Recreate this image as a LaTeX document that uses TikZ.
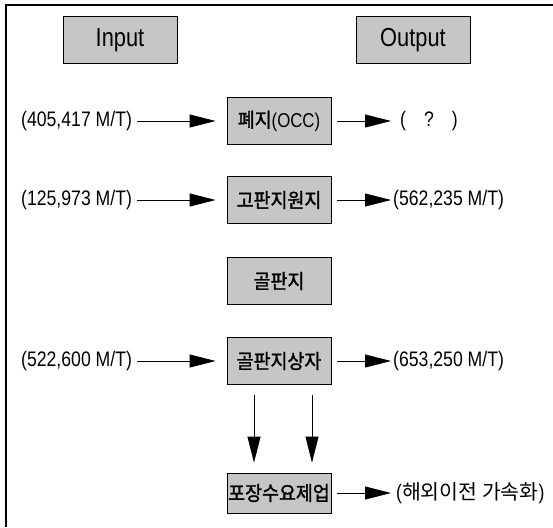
\documentclass[tikz,border=0pt]{standalone}
\usepackage{fontspec}
\setmainfont[FakeStretch=0.84]{Liberation Sans}
\newfontfamily\kr{Noto Sans CJK KR}
\newfontfamily\krb{Noto Sans CJK KR}[FakeBold=1.5,FakeStretch=0.92]
\usetikzlibrary{arrows.meta}
\definecolor{boxgray}{RGB}{198,198,198}
\tikzset{
  graybox/.style={draw=black, line width=0.8pt, fill=boxgray, minimum width=104pt, minimum height=47pt, inner sep=0pt, font=\fontsize{20}{20}\selectfont},
  headbox/.style={graybox, minimum width=114pt, font=\fontsize{26}{26}\selectfont},
  flowtext/.style={inner sep=0pt, font=\fontsize{21}{21}\selectfont},
  flowarrow/.style={line width=0.8pt, -{Triangle[length=26pt,width=13pt]}},
}
\begin{document}
\begin{tikzpicture}[x=1pt,y=-1pt]
\useasboundingbox (0,0) rectangle (553,527);
\draw[line width=1.4pt] (553,5) coordinate (fr) -- (6,5) coordinate (fc) -- (6,527) coordinate (fb);

\node[headbox] (in) at (120,40) {Input};
\node[headbox] (out) at (413,40) {Output};

\node[graybox] (b1) at (279,121) {{\krb 폐지}(OCC)};
\node[graybox] (b2) at (279,200) {\krb 고판지원지};
\node[graybox] (b3) at (279,281) {\krb 골판지};
\node[graybox] (b4) at (279,361) {\krb 골판지상자};
\node[graybox, minimum height=40pt] (b5) at (279,493) {\krb 포장수요제업};

\node[flowtext, anchor=west] (l1) at (21,121) {(405,417 M/T)};
\node[flowtext, anchor=west] (l2) at (21,200) {(125,973 M/T)};
\node[flowtext, anchor=west] (l4) at (21,361) {(522,600 M/T)};

\node[flowtext, anchor=west] (r1) at (400,121) {(\hspace{18pt}?\hspace{18pt})};
\node[flowtext, anchor=west] (r2) at (393,200) {(562,235 M/T)};
\node[flowtext, anchor=west] (r4) at (393,361) {(653,250 M/T)};
\node[flowtext, anchor=west] (r5) at (396,493) {({\kr\fontsize{20.5}{20.5}\selectfont 해외이전 가속화})};

\draw[flowarrow, shorten <=5pt, shorten >=11pt] (l1.east) -- (b1.west);
\draw[flowarrow, shorten <=5pt, shorten >=11pt] (l2.east) -- (b2.west);
\draw[flowarrow, shorten <=5pt, shorten >=11pt] (l4.east) -- (b4.west);

\draw[flowarrow, shorten <=6pt, shorten >=9pt] (b1.east) -- (r1.west);
\draw[flowarrow, shorten <=6pt, shorten >=2pt] (b2.east) -- (r2.west);
\draw[flowarrow, shorten <=6pt, shorten >=2pt] (b4.east) -- (r4.west);
\draw[flowarrow, shorten <=6pt, shorten >=5pt] (b5.east) -- (r5.west);

\coordinate (d1s) at ([xshift=-25pt,yshift=-10pt]b4.south);
\coordinate (d2s) at ([xshift=33pt,yshift=-10pt]b4.south);
\coordinate (d1e) at ([xshift=-25pt,yshift=10pt]b5.north);
\coordinate (d2e) at ([xshift=33pt,yshift=10pt]b5.north);
\draw[flowarrow] (d1s) -- (d1e);
\draw[flowarrow] (d2s) -- (d2e);
\end{tikzpicture}
\end{document}
